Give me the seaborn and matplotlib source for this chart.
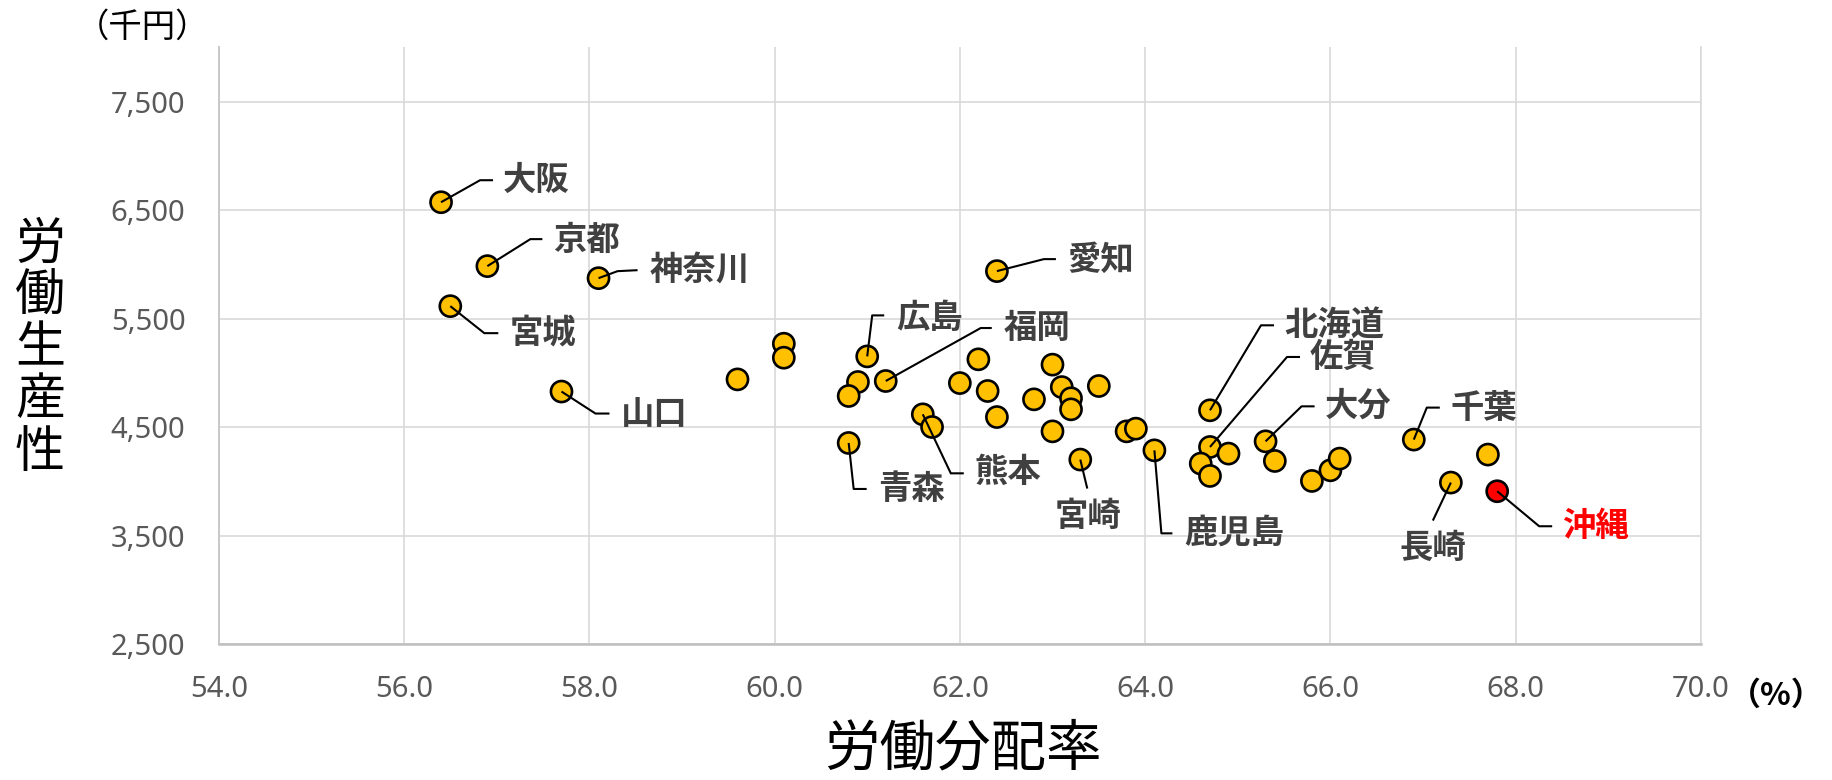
import numpy as np
import pandas as pd
import matplotlib
matplotlib.use("Agg")
import matplotlib.pyplot as plt
import matplotlib.transforms as mtransforms
import seaborn as sns

# 労働分配率 (%) と 労働生産性 (千円) - ラベル付きの都道府県
label_names = ["大阪", "京都", "神奈川", "宮城", "山口", "愛知", "広島", "福岡", "青森",
               "熊本", "宮崎", "鹿児島", "北海道", "佐賀", "大分", "千葉", "長崎", "沖縄"]
label_rate = [56.4, 56.9, 58.1, 56.5, 57.7, 62.4, 61.0, 61.2, 60.8,
              61.6, 63.3, 64.1, 64.7, 64.7, 65.3, 66.9, 67.3, 67.8]
label_prod = [6572, 5983, 5872, 5614, 4827, 5937, 5151, 4924, 4353,
              4617, 4200, 4285, 4654, 4316, 4368, 4384, 3988, 3908]

# ラベルなしの都道府県
other_rate = [59.6, 60.1, 60.1, 60.9, 60.8, 61.7, 62.0, 62.2, 62.3, 62.4, 63.0, 63.1, 63.2,
              63.2, 62.8, 63.0, 63.5, 63.8, 63.9, 64.9, 64.6, 64.7, 65.4, 65.8, 66.0, 66.1, 67.7]
other_prod = [4939, 5268, 5139, 4915, 4786, 4500, 4905, 5124, 4832, 4592, 5075, 4868, 4765,
              4663, 4755, 4460, 4878, 4460, 4485, 4255, 4163, 4049, 4187, 4003, 4101, 4209, 4246]

highlight = "沖縄"
x_ticks = [54, 56, 58, 60, 62, 64, 66, 68, 70]
y_ticks = [2500, 3500, 4500, 5500, 6500, 7500]

# 引き出し線: (折れ点, 線の終点, 文字位置, 水平揃え) ピクセル単位、下向き正
leaders = {
    "大阪": ((39, -22), (52, -22), (62, -22), "left"),
    "京都": ((43, -27), (55, -27), (66, -26), "left"),
    "神奈川": ((19, -7), (39, -8), (51, -8), "left"),
    "宮城": ((34, 27), (48, 27), (59, 27), "left"),
    "山口": ((34, 22), (48, 22), (59, 23), "left"),
    "愛知": ((47, -12), (59, -12), (70, -11), "left"),
    "広島": ((5, -41), (17, -41), (29, -38), "left"),
    "福岡": ((95, -53), (106, -53), (118, -53), "left"),
    "青森": ((5, 46), (18, 46), (29, 47), "left"),
    "熊本": ((28, 59), (41, 59), (52, 58), "left"),
    "宮崎": ((7, 29), (7, 29), (8, 57), "center"),
    "鹿児島": ((7, 83), (18, 83), (30, 83), "left"),
    "北海道": ((51, -85), (64, -85), (74, -85), "left"),
    "佐賀": ((77, -90), (90, -90), (100, -90), "left"),
    "大分": ((36, -35), (49, -35), (59, -35), "left"),
    "千葉": ((13, -32), (26, -32), (37, -31), "left"),
    "長崎": ((-18, 38), (-18, 38), (-18, 66), "center"),
    "沖縄": ((42, 35), (55, 35), (65, 35), "left"),
}

df = pd.DataFrame({
    "name": label_names + [""] * len(other_rate),
    "rate": label_rate + other_rate,
    "prod": label_prod + other_prod,
})
df["group"] = np.where(df["name"] == highlight, "hl", "base")

sns.set_theme(style="white")
plt.rcParams["font.family"] = ["Noto Sans CJK JP", "DejaVu Sans"]

DPI = 100
fig = plt.figure(figsize=(18.33, 7.8), dpi=DPI)
ax = fig.add_axes([218.7 / 1833, 1 - 644 / 780, (1701 - 218.7) / 1833, (644 - 47.3) / 780])

ax.set_xlim(54, 70)
ax.set_ylim(2500, 8000)
ax.set_xticks(x_ticks)
ax.set_yticks(y_ticks)
ax.set_xticklabels([f"{v:.1f}" for v in x_ticks])
ax.set_yticklabels([f"{v:,}" for v in y_ticks])
ax.tick_params(axis="both", length=0, labelsize=21, labelcolor="#595959")
ax.tick_params(axis="x", pad=22)
ax.tick_params(axis="y", pad=24)
for lbl in ax.get_xticklabels() + ax.get_yticklabels():
    lbl.set_fontfamily(["Noto Sans", "DejaVu Sans"])

ax.grid(True, color="#D9D9D9", linewidth=1.2)
ax.set_axisbelow(True)
ax.spines["top"].set_visible(False)
ax.spines["right"].set_color("#D9D9D9")
ax.spines["right"].set_linewidth(1.2)
ax.spines["left"].set_color("#C8C8C8")
ax.spines["left"].set_linewidth(1.4)
ax.spines["bottom"].set_color("#BFBFBF")
ax.spines["bottom"].set_linewidth(1.8)

sns.scatterplot(data=df, x="rate", y="prod", hue="group",
                palette={"base": "#FFC000", "hl": "#FF0000"},
                s=230, edgecolor="black", linewidth=1.9, legend=False,
                zorder=3, ax=ax)
ax.set_xlabel("")
ax.set_ylabel("")

# 引き出し線とラベル
for name, rx, ry in zip(label_names, label_rate, label_prod):
    (ex, ey), (tx, ty), (lx, ly), ha = leaders[name]
    px, py = ax.transData.transform((rx, ry))
    pts = [(px, py), (px + ex, py - ey), (px + tx, py - ty)]
    xs, ys = zip(*pts)
    ax.plot(xs, ys, color="black", linewidth=1.5, transform=mtransforms.IdentityTransform(),
            zorder=4, solid_capstyle="butt")
    color = "#FF0000" if name == highlight else "#404040"
    ax.annotate(name, xy=(rx, ry), xytext=(lx * 72 / DPI, -ly * 72 / DPI),
                textcoords="offset points", ha=ha, va="center",
                fontsize=24, fontweight="bold", color=color, zorder=5)

# 軸タイトルと単位
for i, ch in enumerate("労働生産性"):
    fig.text(40 / 1833, 1 - (244.5 + 52 * i) / 780, ch, ha="center", va="center",
             fontsize=36, color="black")
fig.text(963 / 1833, 1 - 750 / 780, "労働分配率", ha="center", va="center",
         fontsize=40, color="black")
fig.text(143 / 1833, 1 - 27 / 780, "（千円）", ha="center", va="center",
         fontsize=24, color="black")
fig.text(1776 / 1833, 1 - 696 / 780, "（%）", ha="center", va="center",
         fontsize=23, fontweight="bold", color="black")

fig.savefig("out.png", dpi=DPI)
